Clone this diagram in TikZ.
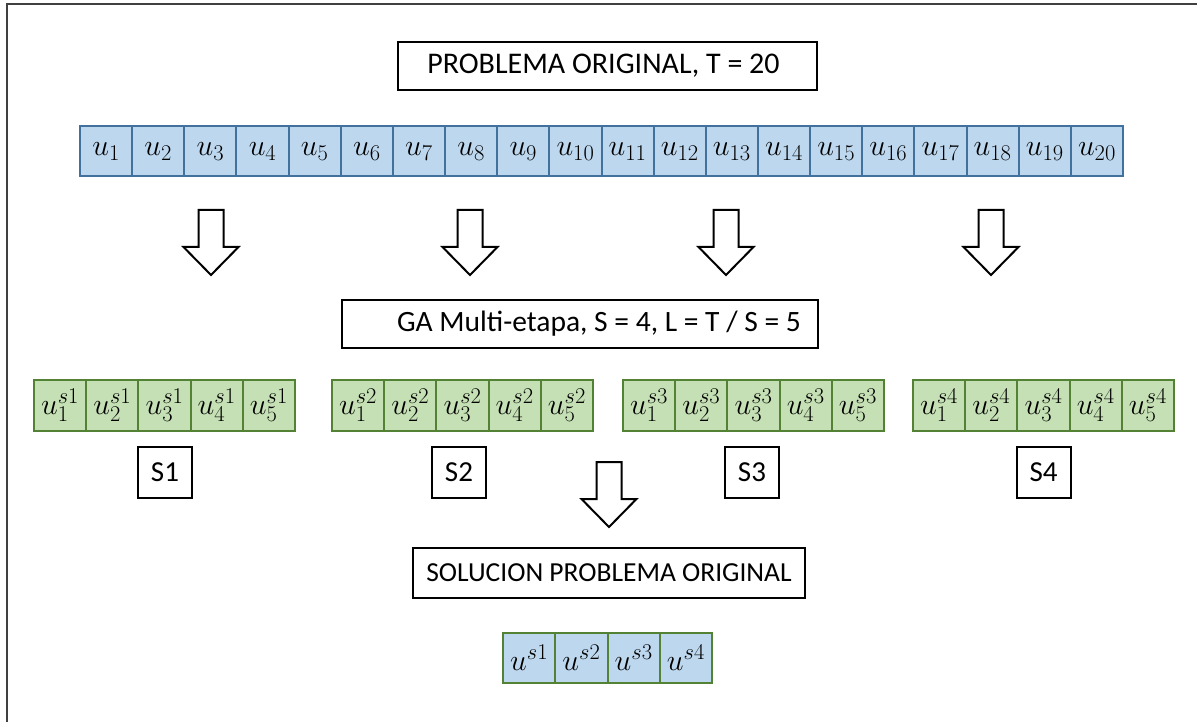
\RequirePackage{fix-cm}
\documentclass[tikz,border=0pt]{standalone}
\usepackage{fontspec}
\setmainfont{Carlito}
\DeclareMathSizes{30}{30}{22.5}{17}
\definecolor{bfill}{HTML}{BDD7EE}
\definecolor{bdraw}{HTML}{41719C}
\definecolor{gfill}{HTML}{C5E0B4}
\definecolor{gdraw}{HTML}{548235}
\definecolor{framec}{HTML}{404040}
\tikzset{
  bcell/.style={draw=bdraw, fill=bfill, line width=2pt, minimum width=52.15pt, minimum height=50pt, inner sep=0pt, font=\fontsize{30}{34}\selectfont},
  gcell/.style={draw=gdraw, fill=gfill, line width=2pt, minimum width=52.2pt, minimum height=51pt, inner sep=0pt, font=\fontsize{30}{34}\selectfont},
  fcell/.style={draw=gdraw, fill=bfill, line width=2pt, minimum width=52.25pt, minimum height=50pt, inner sep=0pt, font=\fontsize{30}{34}\selectfont},
  tbox/.style={draw=black, line width=2pt, inner sep=0pt, font=\fontsize{29}{34}\selectfont},
  barrow/.style={draw=black, line width=2pt, fill=white, line join=miter},
}
\newcommand\blockdown[2]{% center x, top y
  \draw[barrow] ({#1-12.5},{#2}) -- ({#1+12.5},{#2}) -- ({#1+12.5},{#2+37}) -- ({#1+27.5},{#2+37})
    -- ({#1},{#2+65}) -- ({#1-27.5},{#2+37}) -- ({#1-12.5},{#2+37}) -- cycle;}
\begin{document}
\begin{tikzpicture}[x=1pt,y=-1pt]
\useasboundingbox (0,0) rectangle (1197,722);
% frame
\draw[framec, line width=2.5pt] (7,722) -- (7,4) -- (1197,4);
% title
\node[tbox, minimum width=419pt, minimum height=48pt, font=\fontsize{30}{36}\selectfont] (title) at (607.5,66) {PROBLEMA ORIGINAL, T = 20\hspace*{8pt}};
% blue row
\foreach \i in {1,...,20}{
  \node[bcell] (b\i) at ({80+52.15*(\i-0.5)},151.5) {$u_{\i}$};
}
% arrows
\blockdown{211}{210}
\blockdown{470}{210}
\blockdown{726}{210}
\blockdown{991}{210}
% GA box
\node[tbox, minimum width=476pt, minimum height=48pt, font=\fontsize{29.5}{35}\selectfont] (ga) at (580,324) {\hspace*{38pt}GA Multi-etapa, S = 4, L = T / S = 5};
% green groups
\foreach \g/\s in {1/34,2/332,3/623,4/913}{
  \foreach \i in {1,...,5}{
    \node[gcell] (g\g c\i) at ({\s+52.2*(\i-0.5)},405.5) {$u_{\i}^{s\g}$};
  }
}
% S boxes
\foreach \g/\c in {1/165,2/459,3/752,4/1043.5}{
  \node[tbox, minimum width=54pt, minimum height=51pt] (S\g) at (\c,472.5) {S\g};
}
% bottom arrow
\blockdown{609}{462}
% solution box
\node[tbox, minimum width=392pt, minimum height=50pt, font=\fontsize{27.5}{33}\selectfont] (sol) at (609,573) {SOLUCION PROBLEMA ORIGINAL};
% final row
\foreach \i in {1,...,4}{
  \node[fcell] (f\i) at ({503+52.25*(\i-0.5)},658) {$u^{s\i}$};
}
\end{tikzpicture}
\end{document}
